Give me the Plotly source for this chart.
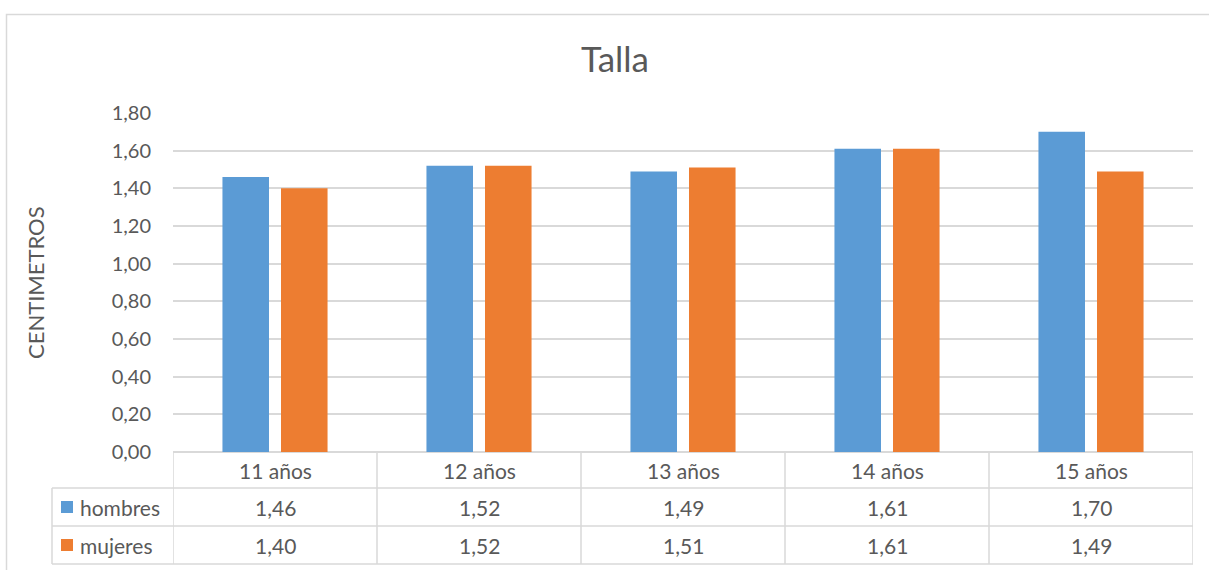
import plotly.graph_objects as go

# Average height by age and sex
categories = ["11 años", "12 años", "13 años", "14 años", "15 años"]
hombres = [1.46, 1.52, 1.49, 1.61, 1.70]
mujeres = [1.40, 1.52, 1.51, 1.61, 1.49]
series_names = ["hombres", "mujeres"]
colors = ["#5B9BD5", "#ED7D31"]
y_ticks = [0.0, 0.2, 0.4, 0.6, 0.8, 1.0, 1.2, 1.4, 1.6, 1.8]

W, H = 1209, 570
PLOT_L, PLOT_R, PLOT_T, PLOT_B = 173, 1193, 113, 452
PW, PH = PLOT_R - PLOT_L, PLOT_B - PLOT_T

TEXT = "#595959"
GRID = "#D9D9D9"
FONT = "Lato, 'Open Sans', sans-serif"
TABLE_SIZE = 21


def px_x(p):
    return (p - PLOT_L) / PW


def px_y(p):
    return (PLOT_B - p) / PH


def fmt(v):
    return f"{v:.2f}".replace(".", ",")


fig = go.Figure()
for name, vals, col in zip(series_names, [hombres, mujeres], colors):
    fig.add_trace(go.Bar(x=categories, y=vals, name=name, marker=dict(color=col, line=dict(width=0))))

shapes = []
annotations = []

# outer chart frame
shapes.append(dict(type="rect", xref="paper", yref="paper",
                   x0=px_x(6.5), x1=px_x(1230), y0=px_y(590), y1=px_y(14.5),
                   line=dict(color=GRID, width=1.5), fillcolor="rgba(0,0,0,0)", layer="below"))

# data table grid
row_lines = [488, 526, 564]
for r in row_lines:
    shapes.append(dict(type="line", xref="paper", yref="paper",
                       x0=px_x(52), x1=1, y0=px_y(r), y1=px_y(r),
                       line=dict(color=GRID, width=1.5)))
shapes.append(dict(type="line", xref="paper", yref="paper",
                   x0=px_x(52), x1=px_x(52), y0=px_y(488), y1=px_y(564),
                   line=dict(color=GRID, width=1.5)))
for i in range(len(categories) + 1):
    shapes.append(dict(type="line", xref="x", yref="paper",
                       x0=i - 0.5, x1=i - 0.5, y0=0, y1=px_y(564),
                       line=dict(color=GRID, width=1.5)))

cell_font = dict(size=TABLE_SIZE, color=TEXT, family=FONT)

# header row and value rows
for cat in categories:
    annotations.append(dict(x=cat, y=px_y(470), xref="x", yref="paper", text=cat,
                            xanchor="center", yanchor="middle", showarrow=False, font=cell_font))
for row_y, vals in zip([507, 545], [hombres, mujeres]):
    for cat, v in zip(categories, vals):
        annotations.append(dict(x=cat, y=px_y(row_y), xref="x", yref="paper", text=fmt(v),
                                xanchor="center", yanchor="middle", showarrow=False, font=cell_font))

# legend keys inside the table
for row_y, name, col in zip([507, 545], series_names, colors):
    shapes.append(dict(type="rect", xref="paper", yref="paper",
                       x0=px_x(61), x1=px_x(73), y0=px_y(row_y + 6), y1=px_y(row_y - 6),
                       fillcolor=col, line=dict(width=0)))
    annotations.append(dict(x=px_x(78), y=px_y(row_y), xref="paper", yref="paper", text=name,
                            xanchor="left", yanchor="middle", showarrow=False, font=cell_font))

# vertical axis title
annotations.append(dict(x=px_x(35), y=px_y(283), xref="paper", yref="paper", text="CENTIMETROS",
                        textangle=-90, xanchor="center", yanchor="middle", showarrow=False,
                        font=dict(size=22, color=TEXT, family=FONT)))

fig.update_layout(
    width=W, height=H,
    margin=dict(l=PLOT_L, r=W - PLOT_R, t=PLOT_T, b=H - PLOT_B, pad=0),
    paper_bgcolor="white", plot_bgcolor="white",
    separators=",.",
    title=dict(text="Talla", x=615 / W, xanchor="center", y=1 - 60 / H, yanchor="middle",
               font=dict(size=35, color=TEXT, family=FONT)),
    showlegend=False,
    barmode="group", bargap=0.426, bargroupgap=0.205,
    shapes=shapes, annotations=annotations,
    font=dict(family=FONT, color=TEXT),
)
fig.update_xaxes(showticklabels=False, showgrid=False, showline=False, zeroline=False,
                 range=[-0.5, len(categories) - 0.5])
fig.update_yaxes(range=[0, 1.8], tickvals=y_ticks, ticktext=[fmt(t) for t in y_ticks],
                 showgrid=True, gridcolor=GRID, gridwidth=1.5, zeroline=True,
                 zerolinecolor=GRID, zerolinewidth=1.5, showline=False,
                 ticklabelstandoff=21, tickfont=dict(size=20, color=TEXT, family=FONT))

fig.write_html("out.html")
